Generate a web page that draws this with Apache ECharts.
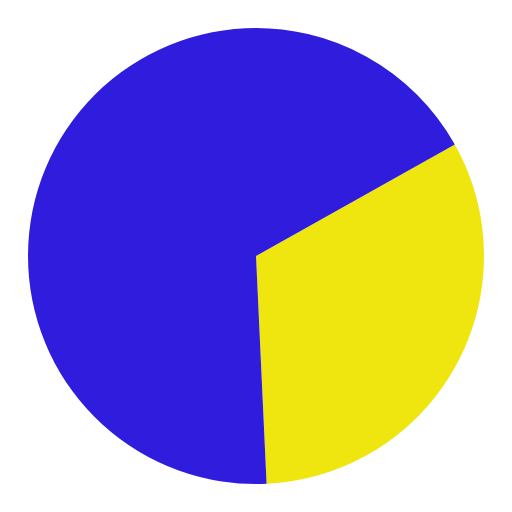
<!DOCTYPE html>
<html>
<head>
<meta charset="utf-8">
<style>html,body{margin:0;padding:0;background:transparent;}#c{width:512px;height:512px;}</style>
<script src="https://cdn.jsdelivr.net/npm/echarts@6/dist/echarts.min.js"></script>
</head>
<body>
<div id="c"></div>
<script>
const categories = ['Yellow', 'Blue'];
const values = [32.4, 67.6];
const colors = ['#EEE60E', '#2F1CDD'];

const chart = echarts.init(document.getElementById('c'), null, {renderer: 'canvas'});
chart.setOption({
  backgroundColor: 'transparent',
  animation: false,
  series: [{
    type: 'pie',
    center: ['50%', '50%'],
    radius: [0, 228],
    startAngle: 29.3,
    clockwise: true,
    label: {show: false},
    labelLine: {show: false},
    itemStyle: {borderWidth: 0},
    emphasis: {disabled: true},
    data: categories.map((n, i) => ({name: n, value: values[i], itemStyle: {color: colors[i]}}))
  }]
});
</script>
</body>
</html>
